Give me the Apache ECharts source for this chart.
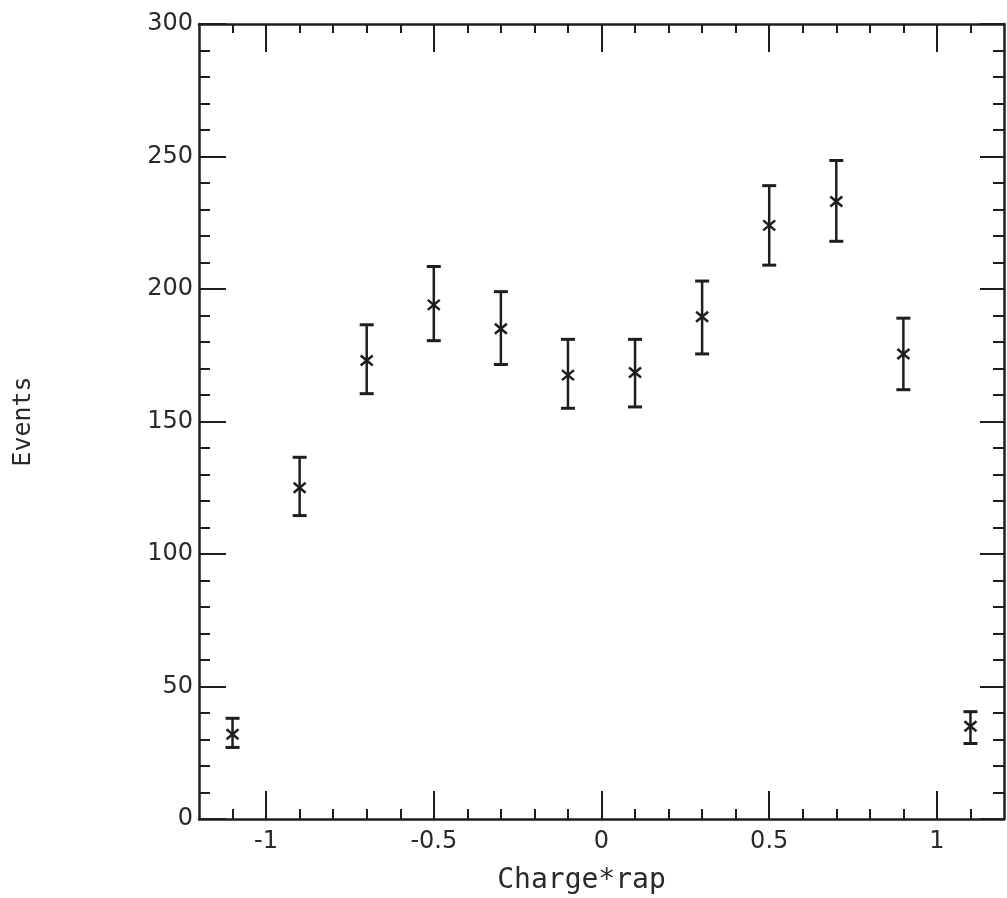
<!DOCTYPE html>
<html>
<head>
<meta charset="utf-8">
<script src="https://cdn.jsdelivr.net/npm/echarts@6/dist/echarts.min.js"></script>
<style>html,body{margin:0;padding:0;background:#fff;}#c{width:1007px;height:898px;}</style>
</head>
<body>
<div id="c"></div>
<script>
// ---- data ----
var xCenters = [-1.1, -0.9, -0.7, -0.5, -0.3, -0.1, 0.1, 0.3, 0.5, 0.7, 0.9, 1.1];
var events   = [32, 125, 173, 194, 185, 167.5, 168.5, 189.5, 224, 233, 175.5, 35];
var errLow   = [27, 114.5, 160.5, 180.5, 171.5, 155, 155.5, 175.5, 209, 218, 162, 28.5];
var errHigh  = [38, 136.5, 186.5, 208.5, 199, 181, 181, 203, 239, 248.5, 189, 40.5];
var xMajorTicks = [-1, -0.5, 0, 0.5, 1];
var xMinorTicks = [-1.1, -0.9, -0.8, -0.7, -0.6, -0.4, -0.3, -0.2, -0.1, 0.1, 0.2, 0.3, 0.4, 0.6, 0.7, 0.8, 0.9, 1.1];
var yMin = 0, yMax = 300, yStep = 50;
var xMin = -1.2, xMax = 1.2;

var ink = '#1e1e1e';
var font = 'DejaVu Sans';
var mono = 'DejaVu Sans Mono';

var pts = xCenters.map(function (x, i) { return [x, events[i], errLow[i], errHigh[i]]; });

function xAxisBase(pos, ticks, len, showLine, labels) {
  return {
    type: 'value', position: pos, min: xMin, max: xMax,
    axisLine: { show: showLine, onZero: false, lineStyle: { color: ink, width: 2.5 } },
    axisTick: { show: true, inside: true, length: len, customValues: ticks, lineStyle: { color: ink, width: 2 } },
    axisLabel: labels ? {
      show: true, customValues: xMajorTicks, color: '#2a2a2a', fontFamily: font, fontSize: 24, margin: 11,
      formatter: function (v) { return String(Math.round(v * 10) / 10); }
    } : { show: false },
    splitLine: { show: false }
  };
}
function yAxisBase(pos, len, labels) {
  return {
    type: 'value', position: pos, min: yMin, max: yMax, interval: yStep,
    axisLine: { show: true, onZero: false, lineStyle: { color: ink, width: 2.5 } },
    axisTick: { show: true, inside: true, length: len, lineStyle: { color: ink, width: 2 } },
    minorTick: { show: true, splitNumber: 5, length: 11, lineStyle: { color: ink, width: 2 } },
    axisLabel: labels ? { show: true, color: '#2a2a2a', fontFamily: font, fontSize: 24, margin: 6 } : { show: false },
    splitLine: { show: false }, minorSplitLine: { show: false }
  };
}

var xAxes = [
  xAxisBase('bottom', xMajorTicks, 28, true, true),
  xAxisBase('bottom', xMinorTicks, 10, false, false),
  xAxisBase('top', xMajorTicks, 28, true, false),
  xAxisBase('top', xMinorTicks, 9, false, false)
];
xAxes[0].name = 'Charge*rap';
xAxes[0].nameLocation = 'middle';
xAxes[0].nameGap = 48;
xAxes[0].nameTextStyle = { color: '#2a2a2a', fontFamily: mono, fontSize: 28, padding: [0, 40, 0, 0] };

var yAxes = [yAxisBase('left', 27, true), yAxisBase('right', 24, false)];
yAxes[0].name = 'Events';
yAxes[0].nameLocation = 'middle';
yAxes[0].nameGap = 163;
yAxes[0].nameRotate = 90;
yAxes[0].nameTextStyle = { color: '#2a2a2a', fontFamily: mono, fontSize: 25 };

var chart = echarts.init(document.getElementById('c'), null, { renderer: 'canvas' });
chart.setOption({
  backgroundColor: '#ffffff',
  animation: false,
  grid: { left: 199, right: 3, top: 24, bottom: 79, containLabel: false, outerBoundsMode: 'none' },
  xAxis: xAxes,
  yAxis: yAxes,
  series: [{
    type: 'custom',
    xAxisIndex: 0, yAxisIndex: 0,
    data: pts,
    renderItem: function (params, api) {
      var x = api.value(0);
      var c = api.coord([x, api.value(1)]);
      var lo = api.coord([x, api.value(2)]);
      var hi = api.coord([x, api.value(3)]);
      var cap = 7, m = 6;
      var st = { stroke: ink, lineWidth: 2.5 };
      return {
        type: 'group',
        children: [
          { type: 'line', shape: { x1: lo[0], y1: lo[1], x2: hi[0], y2: hi[1] }, style: st },
          { type: 'line', shape: { x1: lo[0] - cap, y1: lo[1], x2: lo[0] + cap, y2: lo[1] }, style: { stroke: ink, lineWidth: 3 } },
          { type: 'line', shape: { x1: hi[0] - cap, y1: hi[1], x2: hi[0] + cap, y2: hi[1] }, style: { stroke: ink, lineWidth: 3 } },
          { type: 'line', shape: { x1: c[0] - m, y1: c[1] - 5, x2: c[0] + m, y2: c[1] + 5 }, style: st },
          { type: 'line', shape: { x1: c[0] - m, y1: c[1] + 5, x2: c[0] + m, y2: c[1] - 5 }, style: st }
        ]
      };
    }
  }]
});
</script>
</body>
</html>
